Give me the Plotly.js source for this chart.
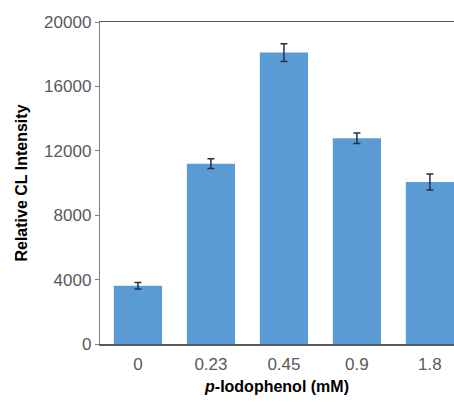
<!DOCTYPE html>
<html>
<head>
<meta charset="utf-8">
<script src="https://cdn.plot.ly/plotly-3.0.1.min.js"></script>
<style>html,body{margin:0;padding:0;background:#fff;}</style>
</head>
<body>
<div id="chart" style="width:454px;height:402px;"></div>
<script>
var categories = ["0", "0.23", "0.45", "0.9", "1.8"];
var intensity = [3620, 11200, 18100, 12780, 10060];
var errors = [200, 300, 550, 320, 500];
var yTicks = [0, 4000, 8000, 12000, 16000, 20000];

var trace = {
  type: "bar",
  x: categories,
  y: intensity,
  marker: {color: "#5B9BD5"},
  error_y: {type: "data", array: errors, visible: true, color: "#1F3050", thickness: 1.5, width: 3.5},
  hoverinfo: "none"
};

var layout = {
  width: 454, height: 402,
  margin: {l: 100, r: 0, t: 22, b: 58},
  paper_bgcolor: "#fff", plot_bgcolor: "#fff",
  showlegend: false,
  bargap: 0.34,
  font: {family: "Liberation Sans, Arial, sans-serif", color: "#595959"},
  xaxis: {
    type: "category",
    range: [-0.52, 4.33],
    showline: true, linecolor: "#595959", linewidth: 1.5, mirror: true,
    ticks: "", showgrid: false, zeroline: false,
    ticklabelstandoff: 4,
    tickfont: {size: 17, color: "#595959"},
    title: {text: "<i>p</i>-Iodophenol (mM)", font: {size: 16, color: "#000", family: "Liberation Sans, Arial, sans-serif", weight: "bold"}, standoff: 8}
  },
  yaxis: {
    range: [0, 20000],
    tickvals: yTicks,
    ticktext: yTicks.map(String),
    showline: true, linecolor: "#808080", linewidth: 1.2,
    ticks: "outside", ticklen: 4, tickcolor: "#808080", tickwidth: 1,
    showgrid: false, zeroline: false,
    tickfont: {size: 17, color: "#595959"},
    title: {text: "Relative CL Intensity", font: {size: 16, color: "#000", family: "Liberation Sans, Arial, sans-serif", weight: "bold"}, standoff: 12}
  }
};

Plotly.newPlot("chart", [trace], layout, {staticPlot: true, displayModeBar: false});
</script>
</body>
</html>
